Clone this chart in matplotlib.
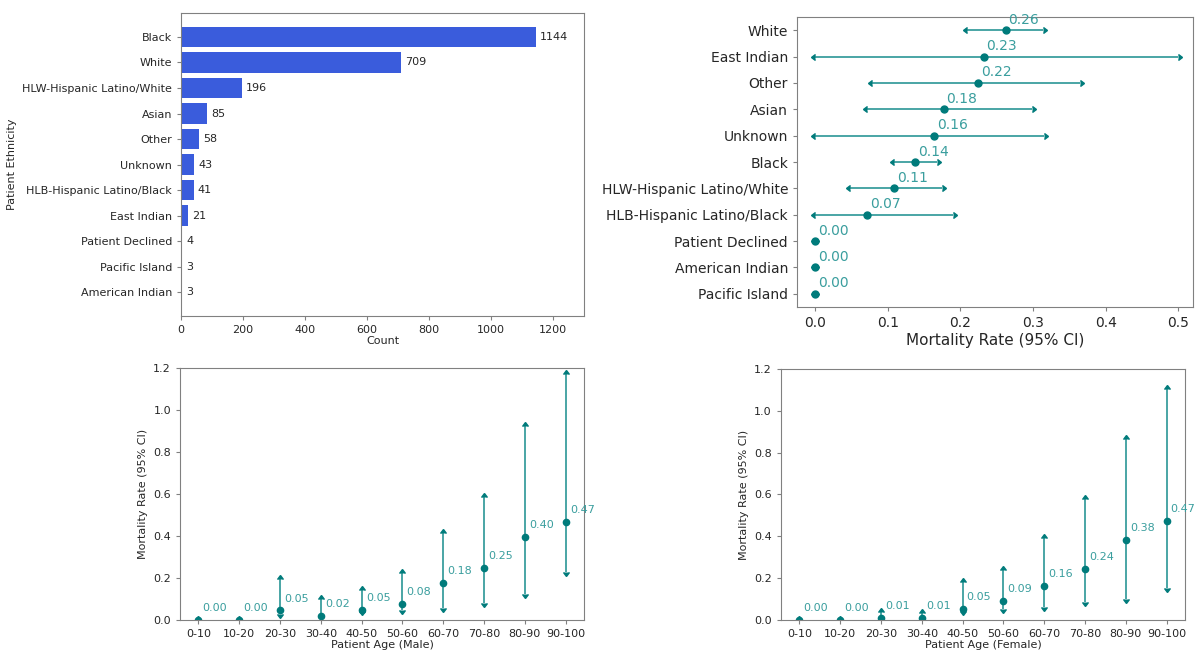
"""Ethnicity counts and mortality rates with 95% CI by ethnicity and age group."""

import numpy as np
import matplotlib.pyplot as plt
from matplotlib.lines import (CARETLEFTBASE, CARETRIGHTBASE,
                              CARETUPBASE, CARETDOWNBASE)

plt.rcParams.update({
    "font.family": "DejaVu Sans",
    "axes.edgecolor": "#808080",
    "xtick.color": "#808080",
    "ytick.color": "#808080",
    "xtick.labelcolor": "#262626",
    "ytick.labelcolor": "#262626",
    "axes.labelcolor": "#262626",
})

TEAL = "#007b7b"
TEAL_LINE = "#3a9e9e"
BAR_BLUE = "#3a5cdc"

# ---- patient counts by ethnicity ----
eth_names = ["Black", "White", "HLW-Hispanic Latino/White", "Asian", "Other",
             "Unknown", "HLB-Hispanic Latino/Black", "East Indian",
             "Patient Declined", "Pacific Island", "American Indian"]
eth_counts = [1144, 709, 196, 85, 58, 43, 41, 21, 4, 3, 3]

# ---- mortality rate by ethnicity (95% CI) ----
mort_names = ["White", "East Indian", "Other", "Asian", "Unknown", "Black",
              "HLW-Hispanic Latino/White", "HLB-Hispanic Latino/Black",
              "Patient Declined", "American Indian", "Pacific Island"]
mort_rate = [0.262, 0.232, 0.224, 0.177, 0.164, 0.138, 0.109, 0.072, 0.0, 0.0, 0.0]
mort_lo = [0.209, 0.0, 0.078, 0.072, 0.0, 0.108, 0.048, 0.0, 0.0, 0.0, 0.0]
mort_hi = [0.313, 0.499, 0.365, 0.299, 0.315, 0.168, 0.174, 0.190, 0.0, 0.0, 0.0]

# ---- mortality rate by age group (95% CI) ----
age_groups = ["0-10", "10-20", "20-30", "30-40", "40-50", "50-60",
              "60-70", "70-80", "80-90", "90-100"]
male_rate = [0.0, 0.0, 0.046, 0.019, 0.048, 0.078, 0.177, 0.248, 0.397, 0.467]
male_lo = [0.0, 0.0, 0.03, 0.0, 0.042, 0.047, 0.058, 0.083, 0.123, 0.230]
male_hi = [0.0, 0.0, 0.195, 0.098, 0.145, 0.222, 0.414, 0.584, 0.926, 1.17]
female_rate = [0.0, 0.0, 0.0095, 0.01, 0.052, 0.090, 0.162, 0.243, 0.383, 0.473]
female_lo = [0.0, 0.0, 0.0, 0.0, 0.043, 0.051, 0.062, 0.084, 0.100, 0.152]
female_hi = [0.0, 0.0, 0.040, 0.034, 0.183, 0.240, 0.393, 0.579, 0.867, 1.103]

fig = plt.figure(figsize=(11.98, 6.51), dpi=100)
ax_bar = fig.add_axes([0.1511, 0.5146, 0.3364, 0.4654])
ax_eth = fig.add_axes([0.6653, 0.5284, 0.3305, 0.4455])
ax_m = fig.add_axes([0.1503, 0.0476, 0.3372, 0.3871])
ax_f = fig.add_axes([0.6519, 0.0476, 0.3372, 0.3856])

# ──────────────────────────────
#  1. Counts per ethnicity
# ──────────────────────────────
bars = ax_bar.barh(eth_names, eth_counts, height=0.8, color=BAR_BLUE)
ax_bar.invert_yaxis()
ax_bar.bar_label(bars, padding=3, fontsize=8, color="#262626")
ax_bar.set_xlim(0, 1300)
ax_bar.set_xlabel("Count", fontsize=8, labelpad=1)
ax_bar.set_ylabel("Patient Ethnicity", fontsize=8)
ax_bar.tick_params(labelsize=8, length=3)

# ──────────────────────────────
#  2. Mortality per ethnicity
# ──────────────────────────────
y = np.arange(len(mort_names))
rate = np.array(mort_rate)
lo = np.array(mort_lo)
hi = np.array(mort_hi)
ax_eth.hlines(y, lo, hi, color=TEAL_LINE, lw=1.3)
ax_eth.plot(lo, y, ls="none", marker=CARETLEFTBASE, ms=4, color=TEAL)
ax_eth.plot(hi, y, ls="none", marker=CARETRIGHTBASE, ms=4, color=TEAL)
ax_eth.plot(rate, y, ls="none", marker="o", ms=5, color=TEAL)
for yi, r in zip(y, rate):
    ax_eth.annotate(f"{r:.2f}", (r, yi), xytext=(2, 2.5), textcoords="offset points",
                    ha="left", va="bottom", fontsize=10, color=TEAL_LINE)
ax_eth.set_yticks(y)
ax_eth.set_yticklabels(mort_names)
ax_eth.set_ylim(len(mort_names) - 0.5, -0.5)
ax_eth.set_xlim(-0.025, 0.52)
ax_eth.set_xlabel("Mortality Rate (95% CI)", fontsize=11, labelpad=2)
ax_eth.tick_params(labelsize=10, length=3)


# ──────────────────────────────
#  3. Mortality per age group
# ──────────────────────────────
def plot_age(ax, rates, lows, highs, xlabel):
    x = np.arange(len(age_groups))
    rates = np.array(rates)
    ax.vlines(x, lows, highs, color=TEAL_LINE, lw=1.3)
    ax.plot(x, highs, ls="none", marker=CARETUPBASE, ms=4, color=TEAL)
    ax.plot(x, lows, ls="none", marker=CARETDOWNBASE, ms=4, color=TEAL)
    ax.plot(x, rates, ls="none", marker="o", ms=4.5, color=TEAL)
    for xi, r in zip(x, rates):
        ax.annotate(f"{r:.2f}", (xi, r), xytext=(3, 8.5), textcoords="offset points",
                    ha="left", va="center", fontsize=8, color=TEAL_LINE,
                    annotation_clip=False)
    ax.set_xticks(x)
    ax.set_xticklabels(age_groups)
    ax.set_xlim(-0.45, len(age_groups) - 0.55)
    ax.set_ylim(0, 1.2)
    ax.set_xlabel(xlabel, fontsize=8, labelpad=1)
    ax.set_ylabel("Mortality Rate (95% CI)", fontsize=8)
    ax.tick_params(labelsize=8, length=3)


plot_age(ax_m, male_rate, male_lo, male_hi, "Patient Age (Male)")
plot_age(ax_f, female_rate, female_lo, female_hi, "Patient Age (Female)")

fig.savefig("out.png", dpi=100)
plt.close(fig)
